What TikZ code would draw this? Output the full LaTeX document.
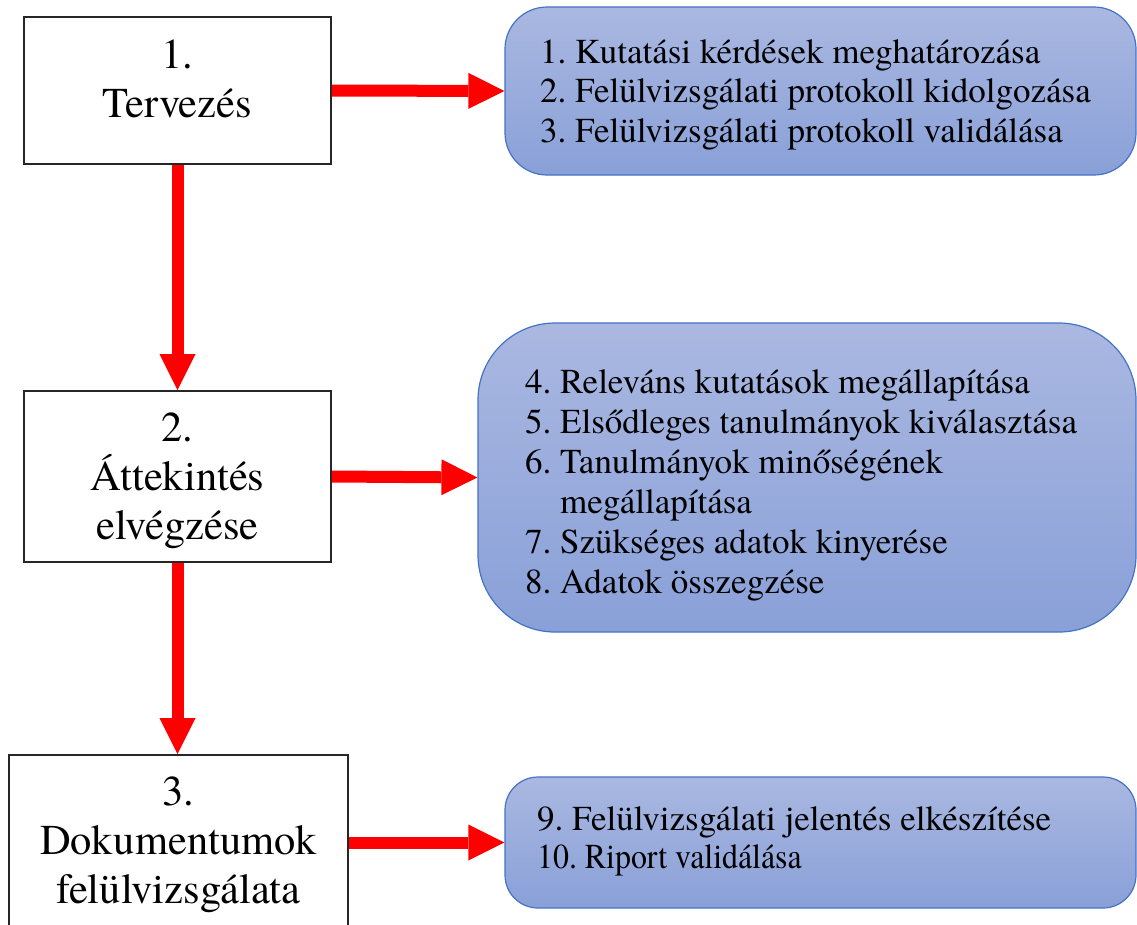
\documentclass[tikz,border=0pt]{standalone}
\usepackage{fontspec}
\setmainfont{texgyretermes-regular.otf}
\usetikzlibrary{arrows.meta}
\definecolor{boxtop}{RGB}{170,184,225}
\definecolor{boxbot}{RGB}{137,160,216}
\definecolor{boxedge}{RGB}{68,114,196}
\definecolor{arrred}{RGB}{255,0,0}
\newcommand{\myTopA}{\rule{0pt}{30pt}}
\newcommand{\myTopB}{\rule{0pt}{25pt}}
\frenchspacing
\begin{document}
\begin{tikzpicture}[x=1pt,y=-1pt,
  stepbox/.style={draw=black!85, line width=1.6pt, fill=white, rectangle, inner sep=0pt},
  roundbox/.style={draw=boxedge, line width=1.2pt, top color=boxtop, bottom color=boxbot, inner sep=0pt},
  boxtext/.style={font=\fontsize{42.5}{49}\selectfont, align=center, anchor=north, inner sep=0pt},
  listtext/.style={align=left, anchor=north west, inner sep=0pt},
  flow/.style={draw=arrred, line width=12pt, -{Triangle[width=36pt,length=36pt,line width=0pt]}}
]
\useasboundingbox (0,0) rectangle (1137,924);
\clip (0,0) rectangle (1137,924);
% left boxes
\node[stepbox, minimum width=307pt, minimum height=147pt] (b1) at (177.5,90.5) {};
\node[stepbox, minimum width=307pt, minimum height=171pt] (b2) at (177.5,476.5) {};
\node[stepbox, minimum width=339pt, minimum height=180pt] (b3) at (178.5,845) {};
% right rounded boxes
\node[roundbox, rounded corners=42pt, minimum width=631pt, minimum height=168pt] (r1) at (820.5,91) {};
\node[roundbox, rounded corners=77pt, minimum width=658pt, minimum height=309pt] (r2) at (807,477.5) {};
\node[roundbox, rounded corners=33pt, minimum width=631pt, minimum height=131pt] (r3) at (820.5,842.5) {};
% box texts
\node[boxtext] (t1) at (177.5,38) {\myTopA 1.\\Tervezés};
\node[boxtext] (t2) at (177.5,411) {\myTopA 2.\\Áttekintés\\elvégzése};
\node[boxtext] (t3) at (178.5,775) {\myTopA 3.\\Dokumentumok\\felülvizsgálata};
% list texts
\node[listtext, font=\fontsize{35}{39.5}\selectfont] (l1) at (540,38) {\myTopB 1. Kutatási kérdések meghatározása\\2. Felülvizsgálati protokoll kidolgozása\\3. Felülvizsgálati protokoll validálása};
\node[listtext, font=\fontsize{35}{40}\selectfont] (l2) at (525,368) {\myTopB 4. Releváns kutatások megállapítása\\5. Elsődleges tanulmányok kiválasztása\\6. Tanulmányok minőségének\\\hphantom{6.\ }megállapítása\\7. Szükséges adatok kinyerése\\8. Adatok összegzése};
\node[listtext, font=\fontsize{35}{38}\selectfont] (l3) at (537,805) {\myTopB 9. Felülvizsgálati jelentés elkészítése\\\scalebox{0.91}[1]{10. Riport validálása}};
% connectors
\draw[flow] (b1.east) -- (r1.west);
\draw[flow] (b2.east) -- (r2.west);
\draw[flow] (r3.west -| b3.east) -- (r3.west);
\draw[flow] (b1.south) -- (b2.north);
\draw[flow] (b2.south) -- (b2.south |- b3.north);
\end{tikzpicture}
\end{document}
